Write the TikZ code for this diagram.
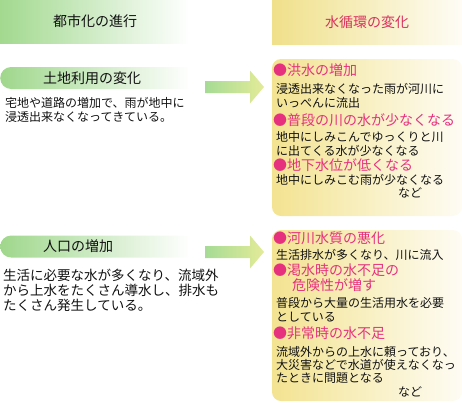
\documentclass[tikz,border=0pt]{standalone}
\usepackage{fontspec}
\setmainfont{Noto Sans CJK JP}
\usetikzlibrary{shapes.misc}
\definecolor{hdrGreen}{HTML}{A2D98F}
\definecolor{hdrYellow}{HTML}{F0E08A}
\definecolor{pillGreen}{HTML}{9FD78C}
\definecolor{boxYellow}{HTML}{F3E391}
\definecolor{arrGreen}{HTML}{A6DB95}
\definecolor{arrYellow}{HTML}{E3EB98}
\definecolor{waterRed}{HTML}{D8305E}
\definecolor{waterPink}{HTML}{E6327E}
\definecolor{textDark}{HTML}{111111}

\begin{document}
\begin{tikzpicture}[x=1pt, y=-1pt,
    hdr/.style={minimum width=190pt, inner sep=0pt, font=\fontsize{14}{16}\selectfont},
    pill/.style={rounded rectangle, rounded rectangle right arc=none,
                 minimum width=190pt, minimum height=22pt, inner sep=0pt,
                 left color=pillGreen, right color=white, anchor=west},
    wbox/.style={rectangle, rounded corners=9pt, minimum width=190pt,
                 inner sep=0pt, left color=boxYellow, right color=boxYellow!10},
    lbl/.style={font=\fontsize{14}{16}\selectfont, inner sep=0pt,
                anchor=base west, text=textDark},
    txt/.style={font=\fontsize{12}{14.5}\selectfont, inner sep=0pt,
                align=left, anchor=base west, text=textDark},
    ttl/.style={font=\fontsize{14}{15}\selectfont, inner sep=0pt,
                align=left, anchor=base west, text=waterPink}
  ]
    \useasboundingbox (0,0) rectangle (462,402);

    % column headers
    \node[hdr, minimum height=43pt, left color=hdrGreen, right color=white,
          text=textDark] (hdrCity) at (95,21.5) {都市化の進行};
    \node[hdr, minimum height=44pt, left color=hdrYellow, right color=hdrYellow!8,
          text=waterRed] (hdrWater) at (367,22.5) {水循環の変化};

    % left column (multi-line nodes: base = last line)
    \node[pill] (landPill) at (0,78) {};
    \node[lbl] (landLbl) at (43,83.3) {土地利用の変化};
    \node[txt, font=\fontsize{12}{14}\selectfont] (landTxt) at (5,121.5)
      {宅地や道路の増加で、雨が地中に\\浸透出来なくなってきている。};

    \node[pill] (popPill) at (0,246.5) {};
    \node[lbl] (popLbl) at (43,251.8) {人口の増加};
    \node[txt, font=\fontsize{13.5}{15}\selectfont] (popTxt) at (3,310)
      {生活に必要な水が多くなり、流域外\\から上水をたくさん導水し、排水も\\たくさん発生している。};

    % arrows
    \coordinate (arrLand) at (205,87);
    \coordinate (arrPop) at (205,252);
    \foreach \a in {arrLand, arrPop}
      \shade[left color=arrGreen, right color=arrYellow]
        (\a) ++(0,-6) -- ++(45,0) -- ++(0,-10.5) -- ++(14,16.5)
        -- ++(-14,16.5) -- ++(0,-10.5) -- ++(-45,0) -- cycle;

    % right column
    \node[wbox, minimum height=157pt] (floodBox) at (367,137.5) {};
    \node[wbox, minimum height=171pt] (qualBox) at (367,315.5) {};

    \node[ttl] (floodTtl) at (273,75) {●洪水の増加};
    \node[txt] (floodTxt) at (276,107.5)
      {浸透出来なくなった雨が河川に\\いっぺんに流出};
    \node[ttl] (lowTtl) at (273,125) {●普段の川の水が少なくなる};
    \node[txt, font=\fontsize{12}{13.5}\selectfont] (lowTxt) at (276,155)
      {地中にしみこんでゆっくりと川\\に出てくる水が少なくなる};
    \node[ttl] (gwTtl) at (273,170) {●地下水位が低くなる};
    \node[txt] (gwTxt) at (276,184.5) {地中にしみこむ雨が少なくなる};
    \node[txt] (floodEtc) at (398,197.5) {など};

    \node[ttl] (qualTtl) at (273,243) {●河川水質の悪化};
    \node[txt] (qualTxt) at (276,259.5) {生活排水が多くなり、川に流入};
    \node[ttl] (dryTtl) at (273,290)
      {●渇水時の水不足の\\\hspace*{19pt}危険性が増す};
    \node[txt, font=\fontsize{12}{14}\selectfont] (dryTxt) at (276,321.5)
      {普段から大量の生活用水を必要\\としている};
    \node[ttl] (emgTtl) at (273,338) {●非常時の水不足};
    \node[txt, font=\fontsize{12}{13}\selectfont] (emgTxt) at (276,382.5)
      {流域外からの上水に頼っており、\\大災害などで水道が使えなくなっ\\たときに問題となる};
    \node[txt] (qualEtc) at (398,396.5) {など};
  \end{tikzpicture}
\end{document}
